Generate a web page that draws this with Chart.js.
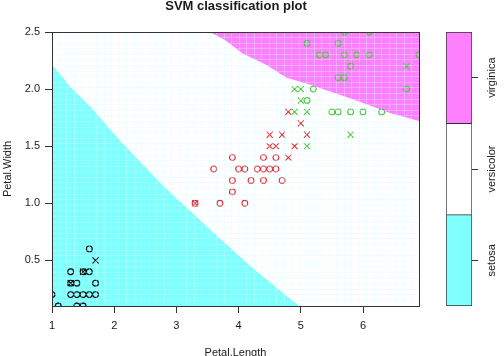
<!DOCTYPE html>
<html><head><meta charset="utf-8">
<script src="https://cdn.jsdelivr.net/npm/chart.js@4.4.1/dist/chart.umd.min.js"></script>
<style>
html,body{margin:0;padding:0;background:#fff;}
#wrap{position:relative;width:504px;height:356px;overflow:hidden;background:#fff;}
#main{position:absolute;left:0;top:0;}
#key{position:absolute;left:420px;top:0;}
</style></head><body>
<div id="wrap">
<canvas id="main" width="472" height="356"></canvas>
<canvas id="key" width="84" height="356"></canvas>
</div>
<script>
// ---- data ----
const classNames = ['setosa', 'versicolor', 'virginica'];
const xTicks = [1, 2, 3, 4, 5, 6];
const yTicks = [0.5, 1.0, 1.5, 2.0, 2.5];
const yTickLabels = ['0.5', '1.0', '1.5', '2.0', '2.5'];
const keyTicks = [0.5, 1.5, 2.5];
const keyValues = [1, 1, 1];

// observations (Petal.Length, Petal.Width); sv = 1 for support vectors ("x"), 0 for "o"
const setosaLength = [1.6, 1.3, 1.5, 1.6, 1.3, 1.4, 1.7, 1.3, 1.4, 1.5, 1.6, 1.7, 1.0, 1.1, 1.4, 1.5, 1.7, 1.5, 1.3];
const setosaWidth  = [0.6, 0.4, 0.4, 0.4, 0.3, 0.3, 0.3, 0.2, 0.2, 0.2, 0.2, 0.2, 0.2, 0.1, 0.1, 0.1, 0.5, 0.4, 0.3];
const setosaSV     = [0,   0,   0,   0,   0,   0,   0,   0,   0,   0,   0,   0,   0,   0,   0,   0,   1,   1,   1];

const versicolorLength = [3.9, 4.4, 4.6, 3.6, 4.0, 4.1, 4.3, 4.4, 4.5, 4.6, 3.9, 4.2, 4.4, 4.7, 3.9, 3.3, 3.7, 4.1,
                          4.5, 4.7, 5.1, 4.5, 4.6, 4.9, 4.8, 4.8, 5.0, 3.3];
const versicolorWidth  = [1.4, 1.4, 1.4, 1.3, 1.3, 1.3, 1.3, 1.3, 1.3, 1.3, 1.2, 1.2, 1.2, 1.2, 1.1, 1.0, 1.0, 1.0,
                          1.6, 1.6, 1.6, 1.5, 1.5, 1.5, 1.4, 1.8, 1.7, 1.0];
const versicolorSV     = [0,   0,   0,   0,   0,   0,   0,   0,   0,   0,   0,   0,   0,   0,   0,   0,   0,   0,
                          1,   1,   1,   1,   1,   1,   1,   1,   1,   1];

const virginicaLength = [5.2, 6.7, 5.1, 5.5, 5.6, 5.8, 6.0, 6.3, 5.6, 5.7, 5.8, 5.3, 5.4, 5.7, 5.9, 6.1, 6.9, 5.1, 5.6, 5.7, 6.1,
                         4.9, 5.0, 5.0, 4.9, 5.1, 5.1, 5.8, 6.7];
const virginicaWidth  = [2.0, 2.0, 1.9, 1.8, 1.8, 1.8, 1.8, 1.8, 2.1, 2.1, 2.2, 2.3, 2.3, 2.3, 2.3, 2.3, 2.3, 2.4, 2.4, 2.5, 2.5,
                         2.0, 2.0, 1.9, 1.8, 1.8, 1.5, 1.6, 2.2];
const virginicaSV     = [0,   0,   0,   0,   0,   0,   0,   0,   0,   0,   0,   0,   0,   0,   0,   0,   0,   0,   0,   0,   0,
                         1,   1,   1,   1,   1,   1,   1,   1];

// decision region boundaries
const setosaBoundaryX = [1.0, 1.13, 1.29, 1.61, 2.09, 2.81, 3.64, 4.23, 4.97];
const setosaBoundaryY = [2.21, 2.13, 2.02, 1.85, 1.55, 1.14, 0.72, 0.43, 0.10];
const virginicaBoundaryX = [3.535, 3.78, 4.07, 4.45, 4.77, 5.09, 5.46, 5.95, 6.43, 6.9];
const virginicaBoundaryY = [2.5, 2.43, 2.31, 2.21, 2.10, 2.05, 1.98, 1.89, 1.79, 1.72];

const xRange = [1, 6.9];
const yRange = [0.1, 2.5];
const gridN = 50;

// ---- styling ----
const FONT = "'Liberation Sans', Arial, Helvetica, sans-serif";
const INK = '#333333';
const TXT = '#1a1a1a';
const regionColors = ['#80FFFF', '#FFFFFF', '#FF80FF'];
const classColors = ['#000000', '#E0303A', '#4EC43C'];
const seamColor = 'rgba(205,255,255,0.33)';

function pick(xs, ys, sv, want) {
  const out = [];
  for (let i = 0; i < xs.length; i++) if (sv[i] === want) out.push({x: xs[i], y: ys[i]});
  return out;
}
function zip(xs, ys) { return xs.map((v, i) => ({x: v, y: ys[i]})); }
function pointSet(label, xs, ys, sv, want, color) {
  return {
    type: 'scatter', label, data: pick(xs, ys, sv, want), showLine: false,
    xAxisID: 'x', yAxisID: 'y',
    pointStyle: want ? 'crossRot' : 'circle',
    pointRadius: want ? 4.3 : 2.9,
    pointBorderWidth: 1.1,
    pointBorderColor: color,
    pointBackgroundColor: 'rgba(0,0,0,0)',
    order: 0
  };
}
const seamX = Array.from({length: gridN}, (_, i) => xRange[0] + i * (xRange[1] - xRange[0]) / (gridN - 1));
const seamY = Array.from({length: gridN}, (_, i) => yRange[0] + i * (yRange[1] - yRange[0]) / (gridN - 1));

const datasets = [
  pointSet('setosa o', setosaLength, setosaWidth, setosaSV, 0, classColors[0]),
  pointSet('setosa x', setosaLength, setosaWidth, setosaSV, 1, classColors[0]),
  pointSet('versicolor o', versicolorLength, versicolorWidth, versicolorSV, 0, classColors[1]),
  pointSet('versicolor x', versicolorLength, versicolorWidth, versicolorSV, 1, classColors[1]),
  pointSet('virginica o', virginicaLength, virginicaWidth, virginicaSV, 0, classColors[2]),
  pointSet('virginica x', virginicaLength, virginicaWidth, virginicaSV, 1, classColors[2]),
  {type: 'line', label: 'setosa region', data: zip(setosaBoundaryX, setosaBoundaryY), xAxisID: 'x', yAxisID: 'y',
   fill: 'start', backgroundColor: regionColors[0], borderColor: 'rgba(0,0,0,0)', borderWidth: 0, pointRadius: 0, tension: 0, order: 10},
  {type: 'line', label: 'virginica region', data: zip(virginicaBoundaryX, virginicaBoundaryY), xAxisID: 'x', yAxisID: 'y',
   fill: 'end', backgroundColor: regionColors[2], borderColor: 'rgba(0,0,0,0)', borderWidth: 0, pointRadius: 0, tension: 0, order: 10}
];

const tickFont = {family: FONT, size: 11};

new Chart(document.getElementById('main'), {
  type: 'scatter',
  data: {datasets},
  options: {
    responsive: false, animation: false, events: [],
    layout: {padding: {left: 0, right: 0, top: 0, bottom: 0}},
    plugins: {
      legend: {display: false}, tooltip: {enabled: false},
      title: {display: true, text: 'SVM classification plot', color: TXT,
              font: {family: FONT, size: 13, weight: 'bold'}, padding: {top: -1.5, bottom: 17.9}}
    },
    scales: {
      x: {type: 'linear', position: 'bottom', min: xRange[0], max: xRange[1],
          afterBuildTicks: s => { s.ticks = xTicks.map(v => ({value: v})); },
          afterFit: s => { s.height = 50; },
          ticks: {font: tickFont, color: TXT, padding: 6, maxRotation: 0, autoSkip: false, callback: v => String(v)},
          grid: {drawOnChartArea: false, drawTicks: true, tickLength: 7, tickColor: INK, tickWidth: 1},
          border: {display: true, color: INK, width: 1, z: 2},
          title: {display: true, text: 'Petal.Length', color: TXT, font: tickFont, padding: {top: 0, bottom: -4}}},
      y: {type: 'linear', position: 'left', min: yRange[0], max: yRange[1],
          afterBuildTicks: s => { s.ticks = yTicks.map(v => ({value: v})); },
          afterFit: s => { s.width = 52; },
          ticks: {font: tickFont, color: TXT, padding: 5, autoSkip: false, callback: v => yTickLabels[yTicks.indexOf(v)]},
          grid: {drawOnChartArea: false, drawTicks: true, tickLength: 7, tickColor: INK, tickWidth: 1},
          border: {display: true, color: INK, width: 1, z: 2},
          title: {display: true, text: 'Petal.Width', color: TXT, font: tickFont, padding: {top: 1.3, bottom: 0}}},
      x2: {type: 'linear', position: 'top', min: xRange[0], max: xRange[1],
           ticks: {display: false}, grid: {display: false},
           border: {display: true, color: INK, width: 1, z: 2},
           afterFit: s => { s.height = 0; }},
      y2: {type: 'linear', position: 'right', min: yRange[0], max: yRange[1],
           ticks: {display: false}, grid: {display: false},
           border: {display: true, color: INK, width: 1, z: 2},
           afterFit: s => { s.width = 53; }},
      xg: {type: 'linear', position: 'bottom', min: xRange[0], max: xRange[1],
           afterBuildTicks: s => { s.ticks = seamX.map(v => ({value: v})); },
           ticks: {display: false},
           grid: {display: true, drawTicks: false, drawOnChartArea: true, color: seamColor, lineWidth: 1, z: 1},
           border: {display: false},
           afterFit: s => { s.height = 0; }},
      yg: {type: 'linear', position: 'left', min: yRange[0], max: yRange[1],
           afterBuildTicks: s => { s.ticks = seamY.map(v => ({value: v})); },
           ticks: {display: false},
           grid: {display: true, drawTicks: false, drawOnChartArea: true, color: seamColor, lineWidth: 1, z: 1},
           border: {display: false},
           afterFit: s => { s.width = 0; }}
    }
  }
});

const keyBorders = [
  {top: 1, bottom: 1, left: 1, right: 1},
  {top: 1, bottom: 0, left: 1, right: 1},
  {top: 1, bottom: 0, left: 1, right: 1}
];
new Chart(document.getElementById('key'), {
  type: 'bar',
  data: {
    labels: [''],
    datasets: classNames.map((n, i) => ({
      label: n, data: [keyValues[i]], backgroundColor: regionColors[i], borderColor: INK,
      borderWidth: keyBorders[i], borderSkipped: false, barPercentage: 1, categoryPercentage: 1
    }))
  },
  options: {
    responsive: false, animation: false, events: [],
    layout: {padding: {left: 26, right: 0, top: 32, bottom: 50}},
    plugins: {legend: {display: false}, tooltip: {enabled: false}},
    scales: {
      x: {display: false, stacked: true},
      y: {position: 'right', stacked: true, min: 0, max: 3,
          afterBuildTicks: s => { s.ticks = keyTicks.map(v => ({value: v})); },
          afterFit: s => { s.width = 32; },
          ticks: {minRotation: 90, maxRotation: 90, crossAlign: 'center', padding: -10, autoSkip: false,
                  font: tickFont, color: TXT, callback: v => classNames[keyTicks.indexOf(v)]},
          grid: {drawOnChartArea: false, drawTicks: true, tickLength: 6, tickColor: INK},
          border: {display: false}}
    }
  }
});
</script>
</body></html>
